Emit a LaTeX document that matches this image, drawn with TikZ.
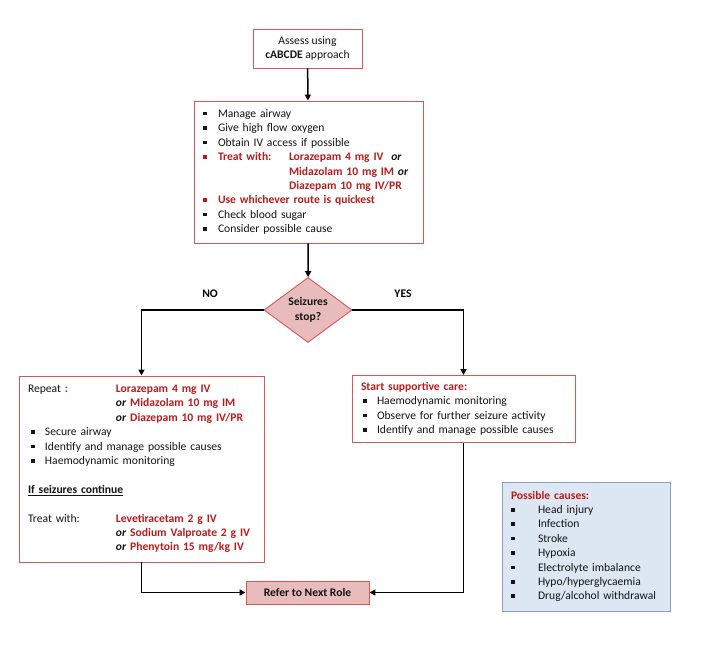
\documentclass[tikz,border=0pt]{standalone}
\usepackage{fontspec}
\setmainfont{Carlito}
\usepackage{tikz}
\usetikzlibrary{shapes.geometric,arrows.meta}

\definecolor{boxred}{RGB}{214,88,84}
\definecolor{txtred}{RGB}{186,28,28}
\definecolor{pinkfill}{RGB}{232,188,188}
\definecolor{bluefill}{RGB}{221,231,243}
\definecolor{blueline}{RGB}{140,160,192}
\definecolor{txtgray}{RGB}{20,20,20}

\newcommand{\bl}[1][15pt]{\makebox[#1][l]{\rule[2pt]{3.6pt}{3.6pt}}}
\newcommand{\rd}[1]{{\color{txtred}\bfseries #1}}
\newcommand{\bor}{\textbf{\textit{or}}}

\tikzset{
  redbox/.style={draw=boxred, line width=0.9pt, fill=white, inner ysep=0pt,
    font=\fontsize{11.6}{14.4}\selectfont, text=txtgray},
  txtbox/.style={redbox, inner xsep=9pt, align=left},
  flow/.style={line width=1.5pt, -{Triangle[length=6pt,width=6pt]}},
  yesno/.style={font=\fontsize{11.6}{14.4}\selectfont\bfseries}
}

\begin{document}
\begin{tikzpicture}[x=1pt,y=-1pt]
\useasboundingbox (0,0) rectangle (702,653);

\node[redbox, align=center, minimum width=109pt, minimum height=39pt] (assess) at (307.5,48.5)
  {Assess using\\\textbf{cABCDE} approach} ;

\node[txtbox, text width=211pt, minimum height=142pt] (manage) at (308.5,172) {%
\bl Manage airway\\
\bl Give high flow oxygen\\
\bl Obtain IV access if possible\\
{\color{txtred}\bl}\rd{\makebox[71pt][l]{Treat with:}Lorazepam 4 mg IV}\ \ \bor\\
\hspace*{86pt}\rd{Midazolam 10 mg IM} \bor\\
\hspace*{86pt}\rd{Diazepam 10 mg IV/PR}\\
{\color{txtred}\bl}\rd{Use whichever route is quickest}\\
\bl Check blood sugar\\
\bl Consider possible cause} ;

\node[redbox, shape=diamond, fill=pinkfill, inner sep=0pt, minimum width=88pt, minimum height=65pt,
  align=center, font=\fontsize{11.6}{14.4}\selectfont\bfseries] (stop) at (308,310) {Seizures\\stop?} ;

\node[yesno] (no) at (210,294) {NO} ;
\node[yesno] (yes) at (403,294) {YES} ;

\node[txtbox, text width=227pt, minimum height=186pt] (repeat) at (141.5,469) {%
\makebox[88pt][l]{Repeat \rd{:}}\rd{Lorazepam 4 mg IV}\\
\hspace*{88pt}\bor\ \rd{Midazolam 10 mg IM}\\
\hspace*{88pt}\bor\ \rd{Diazepam 10 mg IV/PR}\\
\hspace*{3pt}\bl[14pt]Secure airway\\
\hspace*{3pt}\bl[14pt]Identify and manage possible causes\\
\hspace*{3pt}\bl[14pt]Haemodynamic monitoring\\
\strut\\
\textbf{\underline{If seizures continue}}\\
\strut\\
\makebox[88pt][l]{Treat with:}\rd{Levetiracetam 2 g IV}\\
\hspace*{88pt}\bor\ \rd{Sodium Valproate 2 g IV}\\
\hspace*{88pt}\bor\ \rd{Phenytoin 15 mg/kg IV}} ;

\node[txtbox, text width=205pt, minimum height=67pt] (support) at (463.5,409) {%
\rd{Start supportive care:}\\
\hspace*{2pt}\bl[14pt]Haemodynamic monitoring\\
\hspace*{2pt}\bl[14pt]Observe for further seizure activity\\
\hspace*{2pt}\bl[14pt]Identify and manage possible causes} ;

\node[redbox, fill=pinkfill, minimum width=123pt, minimum height=23pt,
  font=\fontsize{11.6}{14.4}\selectfont\bfseries] (refer) at (307.5,592.5) {Refer to Next Role} ;

\node[txtbox, draw=blueline, fill=bluefill, text width=150pt, minimum height=129pt] (causes) at (586,546.5) {%
\rd{Possible causes:}\\
\bl[27pt]Head injury\\
\bl[27pt]Infection\\
\bl[27pt]Stroke\\
\bl[27pt]Hypoxia\\
\bl[27pt]Electrolyte imbalance\\
\bl[27pt]Hypo/hyperglycaemia\\
\bl[27pt]Drug/alcohol withdrawal} ;

\draw[flow] (assess) to (manage) ;
\draw[flow] (manage) to (stop) ;
\draw[flow] (stop.west) -| (repeat.north) ;
\draw[flow] (stop.east) -| (support.north) ;
\draw[flow] (repeat.south) |- (refer.west) ;
\draw[flow] (support.south) |- (refer.east) ;
\end{tikzpicture}
\end{document}
